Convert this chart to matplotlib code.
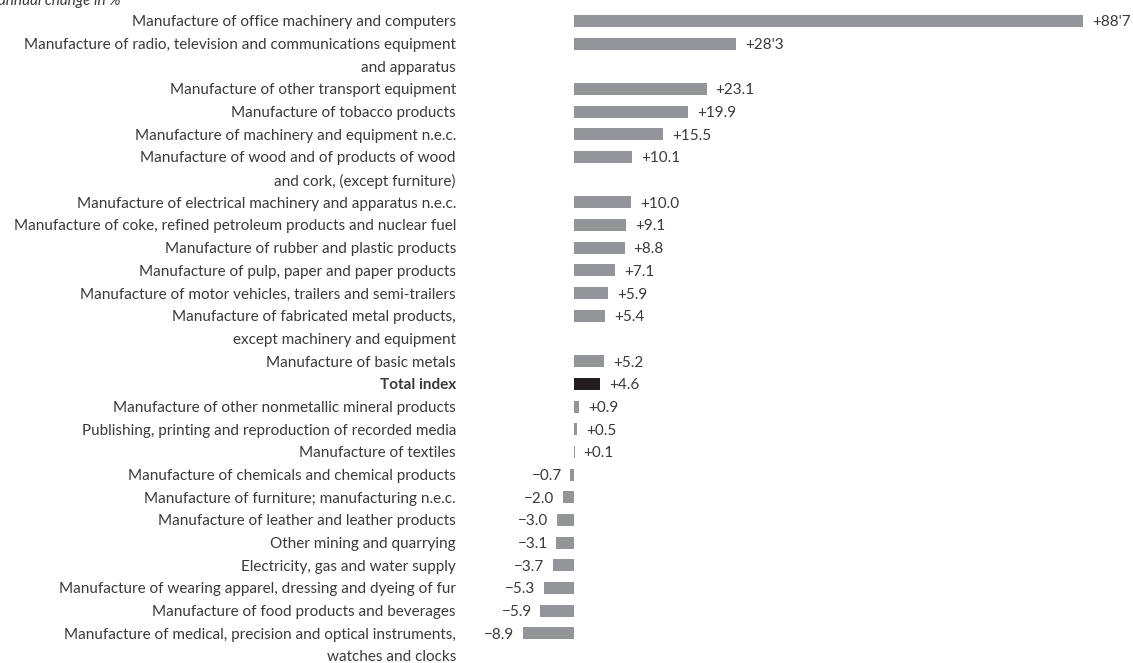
import matplotlib
matplotlib.use("Agg")
import matplotlib.pyplot as plt

categories = [
    "Manufacture of office machinery and computers",
    "Manufacture of radio, television and communications equipment\nand apparatus",
    "Manufacture of other transport equipment",
    "Manufacture of tobacco products",
    "Manufacture of machinery and equipment n.e.c.",
    "Manufacture of wood and of products of wood\nand cork, (except furniture)",
    "Manufacture of electrical machinery and apparatus n.e.c.",
    "Manufacture of coke, refined petroleum products and nuclear fuel",
    "Manufacture of rubber and plastic products",
    "Manufacture of pulp, paper and paper products",
    "Manufacture of motor vehicles, trailers and semi-trailers",
    "Manufacture of fabricated metal products,\nexcept machinery and equipment",
    "Manufacture of basic metals",
    "Total index",
    "Manufacture of other nonmetallic mineral products",
    "Publishing, printing and reproduction of recorded media",
    "Manufacture of textiles",
    "Manufacture of chemicals and chemical products",
    "Manufacture of furniture; manufacturing n.e.c.",
    "Manufacture of leather and leather products",
    "Other mining and quarrying",
    "Electricity, gas and water supply",
    "Manufacture of wearing apparel, dressing and dyeing of fur",
    "Manufacture of food products and beverages",
    "Manufacture of medical, precision and optical instruments,\nwatches and clocks",
]
values = [88.7, 28.3, 23.1, 19.9, 15.5, 10.1, 10.0, 9.1, 8.8, 7.1, 5.9, 5.4, 5.2,
          4.6, 0.9, 0.5, 0.1, -0.7, -2.0, -3.0, -3.1, -3.7, -5.3, -5.9, -8.9]
value_labels = ["+88'7", "+28'3", "+23.1", "+19.9", "+15.5", "+10.1", "+10.0", "+9.1",
                "+8.8", "+7.1", "+5.9", "+5.4", "+5.2", "+4.6", "+0.9", "+0.5", "+0.1",
                "\u22120.7", "\u22122.0", "\u22123.0", "\u22123.1", "\u22123.7", "\u22125.3",
                "\u22125.9", "\u22128.9"]
highlight = "Total index"
unit_label = "annual change in %"

W, H, DPI = 1133, 663, 100
fig = plt.figure(figsize=(W / DPI, H / DPI), dpi=DPI)
fig.patch.set_facecolor("white")

zero_px = 574.0
px_per_unit = 5.74
ax_left_px = 470.0
ax = fig.add_axes([ax_left_px / W, 0, (W - ax_left_px) / W, 1])
ax.set_xlim(-(zero_px - ax_left_px) / px_per_unit, (W - zero_px) / px_per_unit)
first_px, slot_px = 21.0, 22.68
ax.set_ylim((H - first_px) / slot_px, -first_px / slot_px)
ax.axis("off")

FONT = "Lato"
TXT = "#3a3a3a"
GREY = "#939598"
DARK = "#231f20"
fs = 11.0
dy = 0.06  # slight downward text shift (in slots)

# slot positions (multi-line labels take extra slots)
slots = []
s = 0
for c in categories:
    slots.append(s)
    s += c.count("\n") + 1

colors = [DARK if c == highlight else GREY for c in categories]
ax.barh(slots, values, height=0.53, color=colors, linewidth=0)

label_x_px = 456.0
for c, y, v, vl in zip(categories, slots, values, value_labels):
    for i, line in enumerate(c.split("\n")):
        ax.text((label_x_px - zero_px) / px_per_unit, y + i + dy, line, ha="right", va="center",
                fontsize=fs, color=TXT, family=FONT,
                fontweight="bold" if c == highlight else "normal")
    if v >= 0:
        ax.annotate(vl, (v, y + dy), xytext=(6.5, 0), textcoords="offset points",
                    ha="left", va="center", fontsize=fs, color=TXT, family=FONT)
    else:
        ax.annotate(vl, (v, y + dy), xytext=(-6, 0), textcoords="offset points",
                    ha="right", va="center", fontsize=fs, color=TXT, family=FONT)

fig.text(-2 / W, 1 - 1 / H, unit_label, ha="left", va="center", fontsize=fs,
         style="italic", color=TXT, family=FONT)

fig.savefig("out.png", dpi=DPI)
